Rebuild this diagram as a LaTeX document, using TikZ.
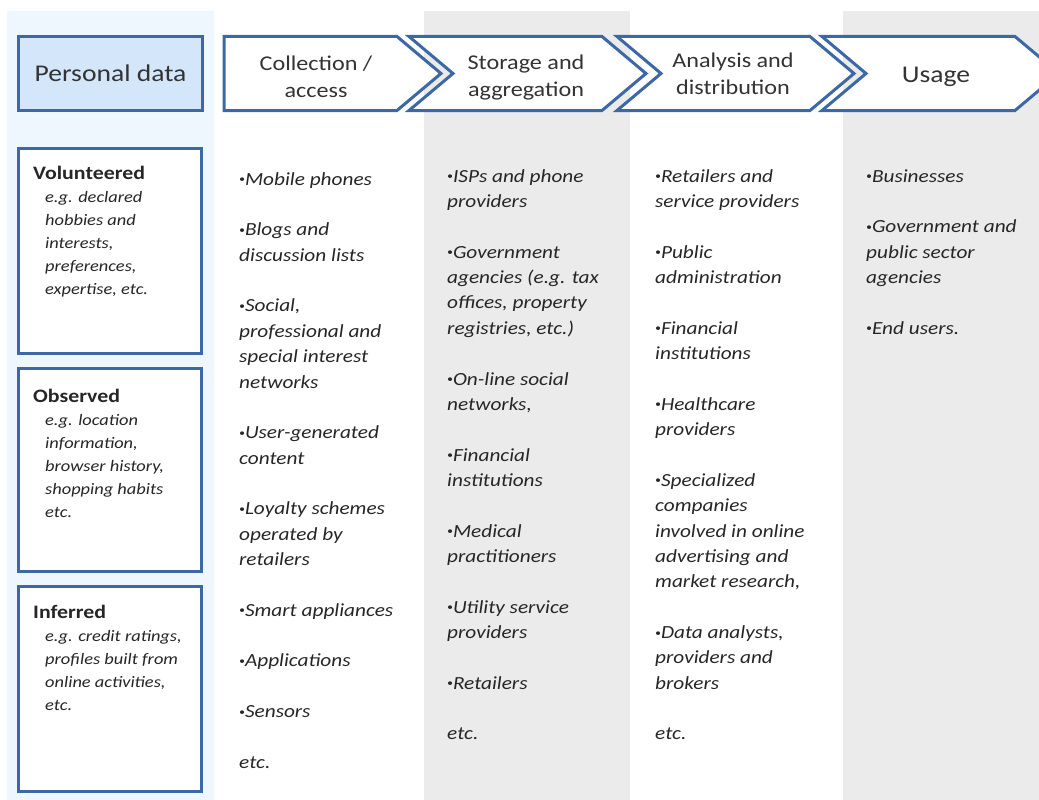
\documentclass[tikz,border=0pt]{standalone}
\usepackage{fontspec}
\setmainfont[FakeStretch=1.15]{Carlito}
\definecolor{boxblue}{HTML}{3D68A6}
\definecolor{pdfill}{HTML}{D4E7FA}
\definecolor{lightcol}{HTML}{EEF7FD}
\definecolor{graycol}{HTML}{EBEBEB}
\definecolor{txt}{HTML}{262626}
\definecolor{hdrtxt}{HTML}{333333}
\newcommand\blt{\raisebox{0.28ex}{\scalebox{0.55}{\textbullet}}}
\newcommand\ind{\hspace*{12pt}}
\newcommand\cattitle{\fontsize{19}{23}\selectfont\bfseries\upshape}
\begin{document}
\begin{tikzpicture}[x=1pt,y=-1pt,
  frame/.style={draw=boxblue, line width=3pt},
  chev/.style={frame, fill=white, line join=miter},
  hdr/.style={font=\fontsize{21}{27}\selectfont, text=hdrtxt, align=center, inner sep=0},
  hdrbig/.style={font=\fontsize{24}{27}\selectfont, text=hdrtxt, inner sep=0},
  coltext/.style={anchor=north west, inner sep=0, align=left, text=txt,
    font=\fontsize{18.5}{25.35}\selectfont\itshape},
  boxtext/.style={anchor=north west, inner sep=0, align=left, text=txt,
    font=\fontsize{16}{23}\selectfont\itshape},
  catbox/.style={frame, fill=white, minimum width=183pt, inner sep=0}]
\useasboundingbox (0,0) rectangle (1039,800);
\begin{scope}
\clip (0,0) rectangle (1039,800);
% column backgrounds
\fill[lightcol] (7,11) rectangle (214,800);
\fill[graycol] (424,11) rectangle (630,800);
\fill[graycol] (843,11) rectangle (1039,800);

% header: personal data box
\node[frame, fill=pdfill, minimum width=184pt, minimum height=74pt, inner sep=0,
  font=\fontsize{24}{27}\selectfont, text=hdrtxt] (pd) at (110.5,73.5) {Personal data};

% header chevrons
\draw[chev] (224,36.5) -- (397,36.5) -- (441,73.5) -- (397,110.5) -- (224,110.5) -- cycle;
\draw[chev] (409,36.5) -- (602,36.5) -- (646,73.5) -- (602,110.5) -- (409,110.5) -- (453,73.5) -- cycle;
\draw[chev] (617,36.5) -- (810,36.5) -- (854,73.5) -- (810,110.5) -- (617,110.5) -- (661,73.5) -- cycle;
\draw[chev] (822,36.5) -- (1015,36.5) -- (1059,73.5) -- (1015,110.5) -- (822,110.5) -- (866,73.5) -- cycle;

\node[hdr, anchor=base] (hcol) at (316,97) {Collection /\\access};
\node[hdr, anchor=base] (hsto) at (526,96) {Storage and\\aggregation};
\node[hdr, anchor=base] (hana) at (733,95) {Analysis and\\distribution};
\node[hdrbig, anchor=base] (huse) at (936,83) {Usage};

% categories of personal data
\node[catbox, minimum height=205pt] (vol) at (110,251) {};
\node[catbox, minimum height=203pt] (obs) at (110,470) {};
\node[catbox, minimum height=205pt] (inf) at (110,689) {};

\node[boxtext] (tvol) at (33,179-16.1) {\strut{\cattitle Volunteered}\\
  \ind e.g. declared\\ \ind hobbies and\\ \ind interests,\\ \ind preferences,\\ \ind expertise, etc.};
\node[boxtext] (tobs) at (33,402-16.1) {\strut{\cattitle Observed}\\
  \ind e.g. location\\ \ind information,\\ \ind browser history,\\ \ind shopping habits\\ \ind etc.};
\node[boxtext] (tinf) at (33,618-16.1) {\strut{\cattitle Inferred}\\
  \ind e.g. credit ratings,\\ \ind profiles built from\\ \ind online activities,\\ \ind etc.};

% actors in each stage
\node[coltext] (lcol) at (239,185-17.745) {\strut\blt Mobile phones\\ \\
  \blt Blogs and\\ discussion lists\\ \\
  \blt Social,\\ professional and\\ special interest\\ networks\\ \\
  \blt User-generated\\ content\\ \\
  \blt Loyalty schemes\\ operated by\\ retailers\\ \\
  \blt Smart appliances\\ \\
  \blt Applications\\ \\
  \blt Sensors\\ \\
  etc.};
\node[coltext] (lsto) at (447,182-17.745) {\strut\blt ISPs and phone\\ providers\\ \\
  \blt Government\\ agencies (e.g. tax\\ offices, property\\ registries, etc.)\\ \\
  \blt On-line social\\ networks,\\ \\
  \blt Financial\\ institutions\\ \\
  \blt Medical\\ practitioners\\ \\
  \blt Utility service\\ providers\\ \\
  \blt Retailers\\ \\
  etc.};
\node[coltext] (lana) at (655,182-17.745) {\strut\blt Retailers and\\ service providers\\ \\
  \blt Public\\ administration\\ \\
  \blt Financial\\ institutions\\ \\
  \blt Healthcare\\ providers\\ \\
  \blt Specialized\\ companies\\ involved in online\\ advertising and\\ market research,\\ \\
  \blt Data analysts,\\ providers and\\ brokers\\ \\
  etc.};
\node[coltext] (luse) at (866,182-17.745) {\strut\blt Businesses\\ \\
  \blt Government and\\ public sector\\ agencies\\ \\
  \blt End users.};
\end{scope}
\end{tikzpicture}
\end{document}
